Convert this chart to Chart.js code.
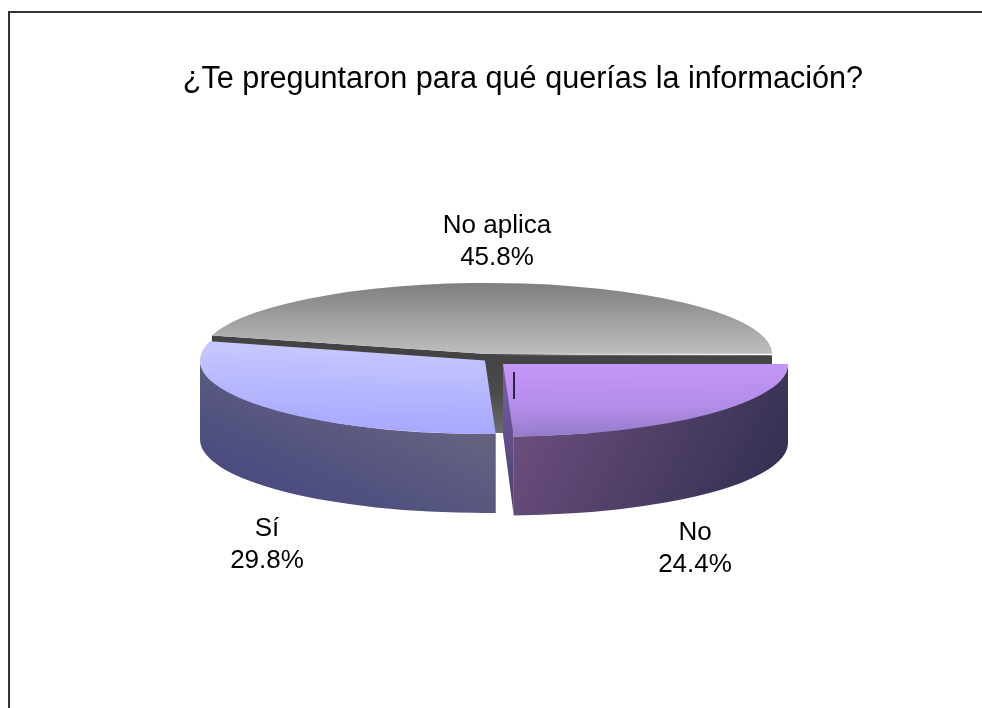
<!DOCTYPE html>
<html><head><meta charset="utf-8">
<style>html,body{margin:0;padding:0;background:#fff;overflow:hidden}canvas{display:block}</style>
<script src="https://cdn.jsdelivr.net/npm/chart.js@4"></script>
</head><body>
<canvas id="c" width="982" height="708"></canvas>
<script>
const titleText = '¿Te preguntaron para qué querías la información?';
const categories = ['No', 'Sí', 'No aplica'];
const seriesValues = [24.4, 29.8, 45.8];
const labelCentres = [[695, 548.5], [267, 544.5], [497, 242]];
const apexes = [[503, 364], [485, 360.5], [487, 354]];
const radiiY = [72.5, 73.5, 71];
const radiusX = 285, depth = 79, radialWallDepthAtApex = 70;
const topGradients = [
  [[540, 350], [570, 470], ['#cc99ff', '#b28ce8', '#6e66a2']],
  [[350, 440], [382, 340], ['#a4a4ff', '#c9c9ff']],
  [[0, 283], [0, 354], ['#7f7f7f', '#bebebe']]
];
const sideGradients = [
  [[530, 440], [730, 540], ['#684c7a', '#373254']],
  [[290, 490], [340, 380], ['#4c4c80', '#626280']],
  [[0, 354], [0, 433], ['#434343', '#4b4b4b', '#6c6c6c']]
];
const radialWallGradient = [[503, 364], [513, 516], ['#7a62a8', '#5f4f8a', '#4a3f70']];

const grad = (ctx, g) => {
  const lg = ctx.createLinearGradient(g[0][0], g[0][1], g[1][0], g[1][1]);
  g[2].forEach((c, i) => lg.addColorStop(i / (g[2].length - 1), c));
  return lg;
};

const pie3d = {
  id: 'pie3d',
  beforeDatasetDraw(chart, args) {
    const ctx = chart.ctx;
    const arcs = args.meta.data;
    // back to front: grey slice, then Sí, then No
    [2, 1, 0].forEach(i => {
      const arc = arcs[i];
      const [ax, ay] = apexes[i];
      const radiusY = radiiY[i];
      const a = arc.startAngle, b = arc.endAngle;
      const pt = t => [ax + radiusX * Math.cos(t), ay + radiusY * Math.sin(t)];
      ctx.save();
      // radial walls facing the viewer
      const wall = (t, apexDepth) => {
        const p = pt(t);
        ctx.beginPath();
        ctx.moveTo(ax, ay);
        ctx.lineTo(p[0], p[1]);
        ctx.lineTo(p[0], p[1] + depth);
        ctx.lineTo(ax, ay + apexDepth);
        ctx.closePath();
        ctx.fill();
      };
      ctx.fillStyle = grad(ctx, sideGradients[i]);
      if (i === 2) { wall(a, depth); wall(b, depth); }
      if (i === 0) {
        ctx.fillStyle = grad(ctx, radialWallGradient);
        wall(b, radialWallDepthAtApex);
        ctx.fillStyle = grad(ctx, sideGradients[i]);
      }
      // outer rim, only the front half shows
      const from = Math.max(a, 0), to = Math.min(b, Math.PI);
      if (to > from) {
        ctx.beginPath();
        ctx.ellipse(ax, ay, radiusX, radiusY, 0, from, to);
        ctx.ellipse(ax, ay + depth, radiusX, radiusY, 0, to, from, true);
        ctx.closePath();
        ctx.fill();
      }
      ctx.restore();

      // top face: the library's arc, flattened into an ellipse
      const sx = radiusX / arc.outerRadius, sy = radiusY / arc.outerRadius;
      const saved = arc.options.backgroundColor;
      const g = topGradients[i];
      const toLocal = p => [(p[0] - ax) / sx + arc.x, (p[1] - ay) / sy + arc.y];
      arc.options.backgroundColor = grad(ctx, [toLocal(g[0]), toLocal(g[1]), g[2]]);
      ctx.save();
      ctx.translate(ax, ay);
      ctx.scale(sx, sy);
      ctx.translate(-arc.x, -arc.y);
      arc.draw(ctx);
      ctx.restore();
      arc.options.backgroundColor = saved;

      if (i === 2) {
        const p = pt(b);
        const fade = ctx.createLinearGradient(p[0], 0, ax, 0);
        fade.addColorStop(0, 'rgba(255,255,255,1)');
        fade.addColorStop(0.7, 'rgba(255,255,255,0.7)');
        fade.addColorStop(1, 'rgba(255,255,255,0)');
        ctx.save();
        ctx.strokeStyle = fade;
        ctx.lineWidth = 1.5;
        ctx.beginPath();
        ctx.moveTo(p[0], p[1] + 0.5);
        ctx.lineTo(ax, ay + 0.5);
        ctx.stroke();
        ctx.restore();
      }
    });
    return false;
  },
  afterDraw(chart) {
    const ctx = chart.ctx;
    ctx.save();
    // outer frame, running off the page at right and bottom
    ctx.strokeStyle = '#333333';
    ctx.lineWidth = 2;
    ctx.beginPath();
    ctx.moveTo(9, 708);
    ctx.lineTo(9, 12);
    ctx.lineTo(982, 12);
    ctx.stroke();
    // leader mark
    ctx.strokeStyle = '#000000';
    ctx.lineWidth = 1.5;
    ctx.beginPath();
    ctx.moveTo(514, 372);
    ctx.lineTo(514, 399);
    ctx.stroke();
    // data labels
    ctx.fillStyle = '#000000';
    ctx.font = '26px "Liberation Sans"';
    ctx.textAlign = 'center';
    ctx.textBaseline = 'middle';
    categories.forEach((name, i) => {
      const [x, y] = labelCentres[i];
      ctx.fillText(name, x, y - 16);
      ctx.fillText(seriesValues[i].toFixed(1) + '%', x, y + 16);
    });
    ctx.restore();
  }
};

new Chart(document.getElementById('c'), {
  type: 'pie',
  data: {
    labels: categories,
    datasets: [{
      data: seriesValues,
      backgroundColor: ['#b08ae8', '#b4b4ff', '#a0a0a0'],
      borderWidth: 0
    }]
  },
  options: {
    responsive: false,
    animation: false,
    rotation: 90,
    layout: { padding: { left: 64 } },
    plugins: {
      legend: { display: false },
      tooltip: { enabled: false },
      title: {
        display: true,
        text: titleText,
        color: '#000000',
        font: { family: '"Liberation Sans"', size: 30.6, weight: 'normal' },
        padding: { top: 61, bottom: 10 }
      }
    }
  },
  plugins: [pie3d]
});
</script>
</body></html>
